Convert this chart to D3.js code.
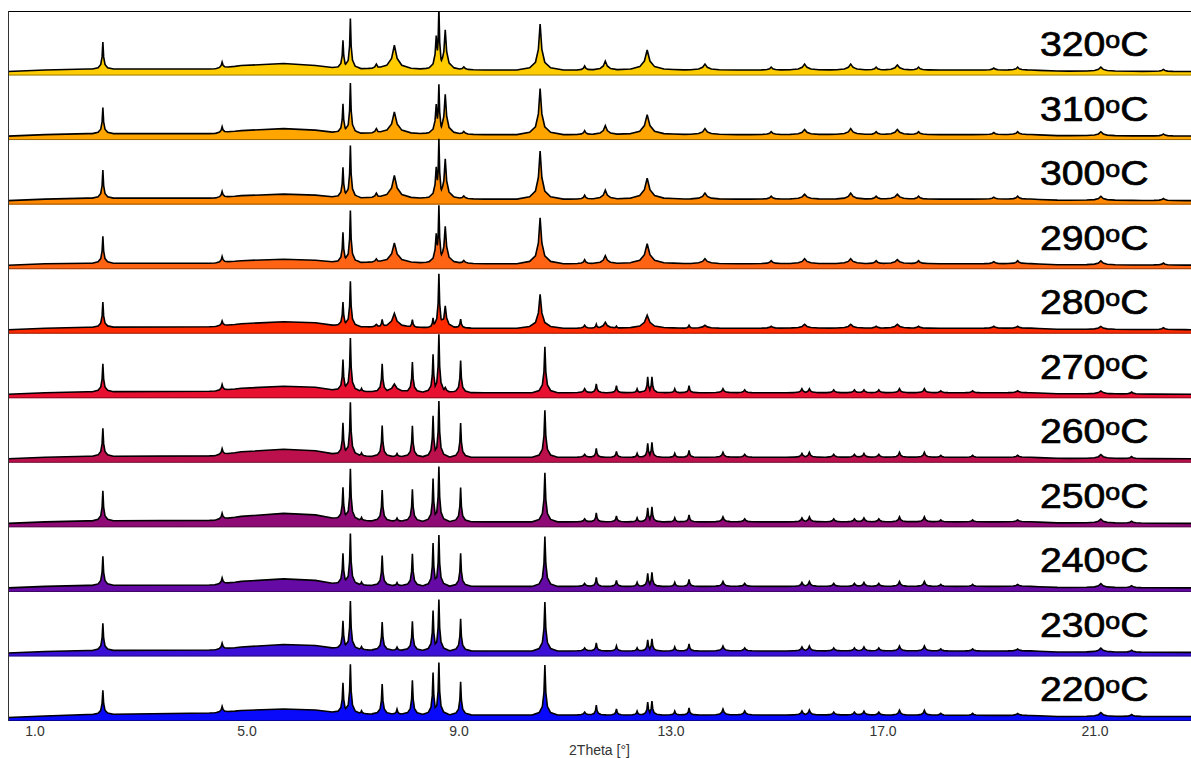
<!DOCTYPE html>
<html>
<head>
<meta charset="utf-8">
<script src="https://cdn.jsdelivr.net/npm/d3@7"></script>
<style>
  body { margin: 0; background: #fff; }
  svg { display: block; }
</style>
</head>
<body>
<div class="chart"></div>
<script>
// temperatures, top panel first
const temps = ["320", "310", "300", "290", "280", "270", "260", "250", "240", "230", "220"];
const fills = ["#FFCC00", "#FFA500", "#FF8800", "#FF6414", "#FF2A00", "#E81030", "#BC104C", "#8E0A74", "#660AA6", "#3A10D6", "#0A0AFA"];
const xTicks = [1, 5, 9, 13, 17, 21];

// peak list: 2theta position and relative width
const peakPos = [2.29, 4.54, 6.82, 6.96, 7.17, 7.45, 7.56, 7.79, 7.84, 8.13,
  8.52, 8.58, 8.63, 8.75, 9.04, 9.10, 10.54, 10.63, 11.38, 11.60,
  11.77, 11.98, 12.37, 12.56, 12.57, 12.65, 13.08, 13.35, 13.65, 13.99,
  14.40, 14.90, 15.48, 15.53, 15.62, 16.08, 16.40, 16.47, 16.65, 16.88,
  16.93, 17.28, 17.32, 17.68, 17.79, 18.10, 18.70, 19.10, 19.55, 21.12,
  21.70, 22.30];
const peakWidth = [1, 1.2, 1, 1, 1, 2, 1, 3.5, 1, 1,
  1, 1.5, 1, 1.8, 1, 2, 2.2, 1.2, 1.5, 1,
  2.5, 1, 1, 3.5, 1, 1, 1, 1, 3, 1.5,
  1.5, 2, 1.5, 3, 1.5, 1.5, 3, 1.5, 1.5, 2,
  1.5, 3, 1.5, 2, 1.5, 1.5, 1.5, 2, 2, 3,
  2, 2];

// peak heights above background, one array per temperature
const h320 = [27, 6, 28, 50, 0, 5, 0, 24, 0, 0, 0, 34, 62, 40, 0, 3, 46, 0, 4, 0, 9, 0, 0, 20, 0, 0, 0, 0, 6, 0, 0, 3, 0, 6, 0, 0, 6, 0, 0, 3, 0, 5, 0, 3, 0, 0, 0, 2, 3, 4, 0, 2];
const h310 = [26, 6, 29, 50, 0, 5, 0, 22, 0, 0, 0, 30, 50, 40, 0, 3, 46, 0, 4, 0, 9, 0, 0, 20, 0, 0, 0, 0, 6, 0, 0, 3, 0, 5, 0, 0, 6, 0, 0, 3, 0, 5, 0, 3, 0, 0, 0, 2, 3, 4, 0, 2];
const h300 = [28, 6, 30, 52, 0, 5, 0, 23, 0, 0, 0, 32, 60, 40, 0, 3, 48, 0, 4, 0, 9, 0, 0, 21, 0, 0, 0, 0, 6, 0, 0, 3, 0, 5, 0, 0, 6, 0, 0, 3, 0, 5, 0, 3, 0, 0, 0, 2, 3, 4, 0, 2];
const h290 = [27, 6, 30, 52, 0, 4, 0, 20, 0, 0, 0, 30, 58, 37, 0, 3, 46, 0, 4, 0, 8, 0, 0, 20, 0, 0, 0, 0, 5, 0, 0, 3, 0, 5, 0, 0, 5, 0, 0, 3, 0, 4, 0, 3, 0, 0, 0, 2, 3, 4, 0, 2];
const h280 = [25, 5, 24, 45, 0, 3, 8, 14, 0, 8, 10, 8, 54, 22, 9, 0, 34, 0, 3, 4, 6, 2, 0, 13, 0, 0, 0, 3, 3, 0, 0, 2, 0, 4, 0, 0, 4, 0, 0, 2, 0, 4, 0, 2, 0, 0, 0, 2, 2, 3, 0, 2];
const h270 = [28, 6, 31, 53, 3, 0, 28, 8, 0, 30, 38, 0, 58, 5, 32, 0, 0, 46, 4, 9, 0, 7, 4, 4, 16, 16, 4, 7, 0, 4, 3, 0, 4, 0, 4, 3, 0, 3, 3, 0, 3, 0, 4, 0, 4, 2, 2, 0, 2, 3, 2, 0];
const h260 = [28, 6, 32, 53, 3, 0, 31, 0, 3, 31, 41, 0, 56, 0, 34, 0, 0, 47, 3, 9, 0, 6, 4, 0, 14, 15, 4, 7, 0, 5, 3, 0, 4, 0, 5, 3, 0, 3, 4, 0, 3, 0, 5, 0, 5, 2, 2, 0, 2, 4, 2, 0];
const h250 = [30, 6, 32, 51, 3, 0, 31, 0, 3, 32, 43, 0, 55, 0, 34, 0, 0, 49, 3, 9, 0, 6, 4, 0, 14, 15, 4, 7, 0, 5, 3, 0, 4, 0, 5, 3, 0, 3, 4, 0, 3, 0, 5, 0, 5, 2, 2, 0, 2, 4, 2, 0];
const h240 = [29, 6, 31, 51, 3, 0, 30, 0, 3, 32, 43, 0, 51, 0, 33, 0, 0, 50, 3, 9, 0, 6, 4, 0, 13, 14, 4, 7, 0, 5, 3, 0, 4, 0, 5, 3, 0, 3, 4, 0, 3, 0, 5, 0, 5, 2, 2, 0, 2, 4, 2, 0];
const h230 = [27, 6, 28, 48, 3, 0, 28, 0, 3, 29, 40, 0, 51, 0, 32, 0, 0, 49, 3, 8, 0, 5, 3, 0, 11, 12, 4, 7, 0, 5, 3, 0, 4, 0, 5, 3, 0, 3, 4, 0, 3, 0, 5, 0, 5, 2, 2, 0, 2, 4, 2, 0];
const h220 = [24, 6, 30, 49, 3, 0, 30, 0, 5, 34, 42, 0, 52, 0, 33, 0, 0, 50, 3, 10, 0, 6, 4, 0, 13, 14, 4, 7, 0, 6, 4, 0, 4, 0, 5, 3, 0, 3, 4, 0, 3, 0, 5, 0, 5, 2, 2, 0, 2, 4, 2, 0];

// background (amorphous hump) knots
const bgPos = [0.5, 1.2, 2.0, 4.4, 4.9, 5.7, 6.3, 6.7, 7.3, 9.5, 12, 16, 19.8, 20.3, 23];
const bg320 = [4, 5.5, 6.5, 6.5, 10, 12, 10, 7.5, 6.5, 5.5, 5.5, 5.5, 5.5, 4.5, 4];
const bg310 = [4, 5.5, 6.5, 6.5, 9.5, 11.5, 10, 7.5, 6.5, 5.5, 5.5, 5.5, 5.5, 4.5, 4];
const bg300 = [4, 5.5, 6.5, 6.5, 9, 10.5, 9.5, 7.5, 6.5, 5.5, 5.5, 5.5, 5.5, 4.5, 4];
const bg290 = [4, 5.5, 6, 6, 8.5, 10, 9, 7, 6.5, 5.5, 5.5, 5.5, 5.5, 4.5, 4];
const bg280 = [4, 5.5, 6.5, 7, 10, 12, 11, 8, 6.5, 5.5, 5.5, 5.5, 5.5, 4.5, 4];
const bg270 = [4, 5.5, 6.5, 7, 10, 12, 11, 8, 6.5, 5.5, 5.5, 5.5, 5.5, 4.5, 4];
const bg260 = [4, 5.5, 6.5, 7, 11, 13.5, 12, 8.5, 6.5, 5.5, 5.5, 5.5, 5.5, 4.5, 4];
const bg250 = [4, 5.5, 6.5, 7, 11, 14, 12.5, 8.5, 6.5, 5.5, 5.5, 5.5, 5.5, 4.5, 4];
const bg240 = [4, 5.5, 6.5, 7, 10.5, 13, 11.5, 8, 6.5, 5.5, 5.5, 5.5, 5.5, 4.5, 4];
const bg230 = [3.5, 5, 6, 6.5, 9.5, 12, 11, 8, 6.5, 5.5, 5.5, 5.5, 5.5, 4.5, 4];
const bg220 = [3.5, 5, 6.5, 8, 10.5, 12, 11, 8.5, 7, 6, 6, 6, 5.5, 4.5, 4.5];

const heights = [h320, h310, h300, h290, h280, h270, h260, h250, h240, h230, h220];
const backgrounds = [bg320, bg310, bg300, bg290, bg280, bg270, bg260, bg250, bg240, bg230, bg220];

// peak glyph shape (offset in degrees, fraction of height)
const shapeOff = [0.2, 0.09, 0.04, 0.015, 0];
const shapeFrac = [0, 0.05, 0.17, 0.45, 1];

const W = 1191, H = 758;
const plotL = 8, plotT = 11, plotB = 721;

const svg = d3.select(".chart")
    .append("svg")
    .attr("width", W)
    .attr("height", H)
    .style("font-family", "'Liberation Sans', Arial, sans-serif");

const x = d3.scaleLinear()
    .domain([0.5, 23])
    .range([plotL, plotL + 22.5 * 53]);

const panel = d3.scaleBand()
    .domain(temps)
    .range([plotT, plotB])
    .padding(0);
const bw = panel.bandwidth();

svg.append("clipPath").attr("id", "plotclip")
    .append("rect")
    .attr("x", plotL).attr("y", plotT)
    .attr("width", W - plotL).attr("height", plotB - plotT);

const plot = svg.append("g").attr("clip-path", "url(#plotclip)");

function profile(i) {
    const bgScale = d3.scaleLinear().domain(bgPos).range(backgrounds[i]);
    const glyphs = [];
    peakPos.forEach((p, k) => {
        const h = heights[i][k];
        if (!h) return;
        const w = peakWidth[k];
        const dom = [], rng = [];
        for (let j = 0; j < shapeOff.length; j++) { dom.push(p - shapeOff[j] * w); rng.push(shapeFrac[j] * h); }
        for (let j = shapeOff.length - 2; j >= 0; j--) { dom.push(p + shapeOff[j] * w); rng.push(shapeFrac[j] * h); }
        glyphs.push(d3.scaleLinear().domain(dom).range(rng).clamp(true));
    });
    const xs = Array.from(new Set(bgPos.concat(glyphs.flatMap(g => g.domain())))).sort((a, b) => a - b);
    return xs.map(v => [v, bgScale(v) + (d3.max(glyphs, g => g(v)) || 0)]);
}

temps.forEach((t, i) => {
    const top = panel(t), bottom = top + bw;
    const y = d3.scaleLinear().domain([0, bw]).range([bottom, top]);
    const pts = profile(i);

    const area = d3.area()
        .x(d => x(d[0]))
        .y0(bottom)
        .y1(d => y(d[1]));
    const line = d3.line()
        .x(d => x(d[0]))
        .y(d => y(d[1]));

    const g = plot.append("g").attr("class", `pattern pattern-${t}`);
    g.append("path")
        .datum(pts)
        .attr("d", area)
        .attr("fill", fills[i]);
    g.append("line")
        .attr("x1", plotL).attr("x2", W)
        .attr("y1", bottom - 0.5).attr("y2", bottom - 0.5)
        .attr("stroke", "rgba(0,0,0,0.4)")
        .attr("stroke-width", 1);
    g.append("path")
        .datum(pts)
        .attr("d", line)
        .attr("fill", "none")
        .attr("stroke", "#000")
        .attr("stroke-width", 1.6)
        .attr("stroke-linejoin", "miter");
});

// temperature labels
temps.forEach((t, i) => {
    const label = svg.append("text")
        .attr("transform", `translate(1040,${panel(t) + 45}) scale(1.12,1)`)
        .attr("font-size", 35)
        .attr("fill", "#000")
        .attr("stroke", "#000")
        .attr("stroke-width", 0.7);
    label.append("tspan").text(t);
    label.append("tspan").attr("font-size", 24).attr("dy", -8).text("o");
    label.append("tspan").attr("dy", 8).text("C");
});

// frame
svg.append("line")
    .attr("x1", plotL).attr("x2", W)
    .attr("y1", plotT + 0.5).attr("y2", plotT + 0.5)
    .attr("stroke", "#000").attr("stroke-width", 1);
svg.append("line")
    .attr("x1", plotL + 0.5).attr("x2", plotL + 0.5)
    .attr("y1", plotT).attr("y2", plotB)
    .attr("stroke", "#333").attr("stroke-width", 1);

// x axis
const xAxis = svg.append("g")
    .attr("transform", `translate(0,${plotB})`)
    .call(d3.axisBottom(x).tickValues(xTicks).tickFormat(d3.format(".1f")).tickSize(0).tickPadding(5));
xAxis.select(".domain").remove();
xAxis.selectAll("text")
    .attr("font-size", 14)
    .attr("font-family", "'Liberation Sans', Arial, sans-serif")
    .attr("fill", "#333");

svg.append("text")
    .attr("x", (plotL + W) / 2)
    .attr("y", 755)
    .attr("text-anchor", "middle")
    .attr("font-size", 14)
    .attr("fill", "#333")
    .text("2Theta [°]");
</script>
</body>
</html>
